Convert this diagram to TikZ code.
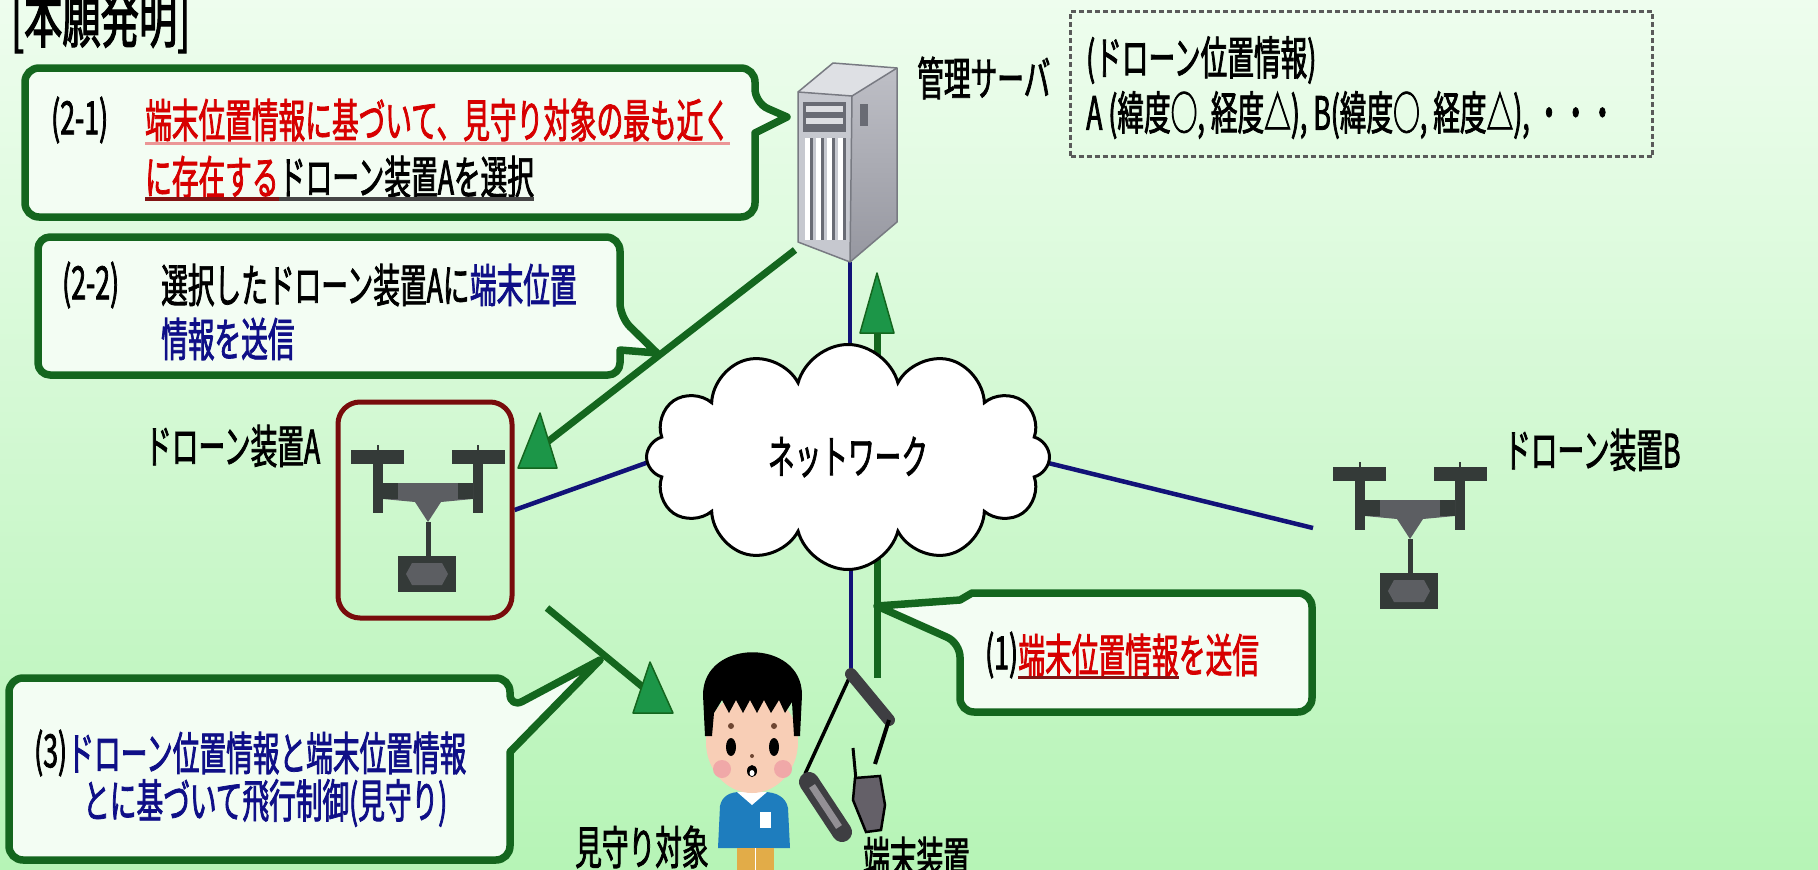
\documentclass[tikz,border=0pt]{standalone}
\usepackage{fontspec}
\setmainfont[FakeStretch=0.58, FakeBold=1.6]{Noto Sans CJK JP}
\usetikzlibrary{shapes.symbols}

\definecolor{bgtop}{RGB}{238,253,238}
\definecolor{bgbot}{RGB}{182,244,182}
\definecolor{callgreen}{RGB}{20,102,30}
\definecolor{callfill}{RGB}{243,253,243}
\definecolor{headgreen}{RGB}{28,150,72}
\definecolor{netblue}{RGB}{18,18,120}
\definecolor{txtred}{RGB}{215,0,0}
\definecolor{txtnavy}{RGB}{15,15,135}
\definecolor{ulred}{RGB}{130,20,20}
\definecolor{ulpink}{RGB}{235,150,150}
\definecolor{ulgray}{RGB}{70,70,70}
\definecolor{boxred}{RGB}{120,12,12}
\definecolor{dronedark}{RGB}{52,58,56}
\definecolor{dronebody}{RGB}{92,94,98}
\definecolor{dashgray}{RGB}{90,90,90}
\definecolor{srvtop}{RGB}{222,224,228}
\definecolor{srvfront}{RGB}{198,200,207}
\definecolor{srvsideA}{RGB}{190,191,198}
\definecolor{srvsideB}{RGB}{150,151,160}
\definecolor{srvedge}{RGB}{120,122,130}
\definecolor{srvslot}{RGB}{105,107,116}
\definecolor{skin}{RGB}{248,206,182}
\definecolor{cheek}{RGB}{240,168,168}
\definecolor{brow}{RGB}{110,70,50}
\definecolor{shirt}{RGB}{30,125,190}
\definecolor{shorts}{RGB}{226,172,72}
\definecolor{phonedark}{RGB}{62,62,66}
\definecolor{phonemid}{RGB}{100,96,104}

\pgfdeclarelayer{backdrop}
\pgfdeclarelayer{wires}
\pgfsetlayers{backdrop,wires,main}

\tikzset{
  txt/.style={inner sep=0pt, anchor=west, font=\fontsize{46}{52}\selectfont},
  callout/.style={draw=callgreen, fill=callfill, line width=7.5, line join=round},
  netline/.style={draw=netblue, line width=4.5},
  gshaft/.style={draw=callgreen, line width=7},
  ghead/.style={fill=headgreen, draw=callgreen, line width=1.5, line join=round},
  drone/.pic={
    % propellers with hubs
    \fill[dronedark] (-77,5) rectangle (-24,19);
    \fill[dronedark] (24,5) rectangle (77,19);
    \draw[dronedark, line width=2.5] (-50,0) -- (-50,5) (50,0) -- (50,5);
    % arms
    \fill[dronedark] (-55,19) rectangle (-45,68);
    \fill[dronedark] (45,19) rectangle (55,68);
    % body
    \fill[dronebody] (-45,38) -- (45,38) -- (45,54) -- (13,57) -- (0,77) -- (-13,57) -- (-45,54) -- cycle;
    \fill[dronedark] (-45,38) rectangle (-30,54);
    \fill[dronedark] (30,38) rectangle (45,54);
    % mast
    \fill[dronedark] (-2.5,77) rectangle (2.5,111);
    % camera
    \fill[dronedark] (-30,111) rectangle (28,147);
    \fill[dronebody] (-16,118) -- (14,118) -- (20,129) -- (14,140) -- (-16,140) -- (-22,129) -- cycle;
  }
}

\begin{document}
\begin{tikzpicture}[x=1pt,y=-1pt]
\useasboundingbox (0,0) rectangle (1818,870);
\begin{pgfonlayer}{backdrop}
  \fill[top color=bgtop, bottom color=bgbot] (0,0) rectangle (1818,870);
\end{pgfonlayer}
\clip (0,0) rectangle (1818,870);

% title
\node[txt, anchor=base west, font=\fontsize{66}{70}\selectfont] (title) at (11,42) {[本願発明]};

% ---------- management server ----------
\fill[srvtop] (798,92) -- (833,63) -- (897,68) -- (852,96) -- cycle;
\shade[top color=srvsideA, bottom color=srvsideB] (852,96) -- (897,68) -- (897,222) -- (850,262) -- cycle;
\fill[srvfront] (798,92) -- (852,96) -- (850,262) -- (798,242) -- cycle;
\fill[srvslot] (803,102) rectangle (846,132);
\fill[srvfront!60!white] (806,106) rectangle (843,112);
\fill[srvfront!60!white] (806,118) rectangle (843,124);
\foreach \sx in {805,816,827,838} {
  \fill[white] (\sx,138) rectangle (\sx+5,240);
  \fill[srvslot] (\sx+5,138) rectangle (\sx+8,240);
}
\fill[srvslot] (860,104) rectangle (868,126);
\draw[srvedge, line width=1.5, line join=round] (798,92) -- (833,63) -- (897,68) -- (897,222) -- (850,262) -- (798,242) -- cycle;
\draw[srvedge, line width=1.5] (798,92) -- (852,96) -- (850,262) (852,96) -- (897,68);
\coordinate (srvbot) at (850,262);
\node[txt] (srvlabel) at (917,78) {管理サーバ};

% drone position table
\node[draw=dashgray, line width=3, dash pattern=on 5pt off 3pt, anchor=north west,
      minimum width=582, minimum height=145, inner sep=0] (table) at (1069,10) {};
\node[txt] (tab1) at (1086,60) {(ドローン位置情報)};
\node[txt] (tab2) at (1086,115) {A (緯度○, 経度△), B(緯度○, 経度△), ・・・};

% ---------- network ----------
\node[cloud, cloud puffs=12, cloud ignores aspect, draw=black, line width=3, fill=white,
      minimum width=403, minimum height=225, inner sep=0,
      font=\fontsize{46}{52}\selectfont] (net) at (848,457) {ネットワーク};

% ---------- drones ----------
\node[draw=boxred, line width=5, rounded corners=22, minimum width=174, minimum height=216, inner sep=0] (boxA) at (425,510) {};
\pic at (428,445) {drone};
\pic at (1410,462) {drone};
\coordinate (droneB) at (1313,528);
\node[txt] (labA) at (145,446) {ドローン装置A};
\node[txt] (labB) at (1504,450) {ドローン装置B};

% ---------- watched child ----------
\fill[shirt] (718,848) -- (720,806) .. controls (722,796) and (730,792) .. (740,792) -- (764,792) .. controls (776,792) and (786,797) .. (788,808) -- (790,848) -- cycle;
\fill[white] (737,792) -- (767,792) -- (752,805) -- cycle;
\fill[white] (760,812) rectangle (771,828);
\fill[shorts] (737,848) rectangle (774,870);
\draw[white, line width=1] (755,848) -- (755,870);
\fill[skin] (752,742) ellipse [x radius=46, y radius=51];
\fill[black] (705,736) -- (703,695) .. controls (703,638) and (802,638) .. (802,695) -- (800,736) -- (794,736) -- (792,702)
  -- (785,713) -- (779,700) -- (771,713) -- (764,700) -- (757,713) -- (750,700) -- (743,713)
  -- (736,700) -- (729,713) -- (722,700) -- (714,713) -- (712,736) -- cycle;
\fill[brow] (731,726) circle (3);
\fill[brow] (774,726) circle (3);
\fill[black] (731,747) ellipse [x radius=5, y radius=9];
\fill[black] (774,747) ellipse [x radius=5, y radius=9];
\fill[cheek] (722,769) circle (9);
\fill[cheek] (783,769) circle (9);
\fill[brow] (752,756) circle (2);
\fill[black] (752,771) ellipse [x radius=5, y radius=6];
\fill[white] (752,773) ellipse [x radius=2.5, y radius=3];
\node[txt] (labChild) at (575,847) {見守り対象};

% ---------- terminal device ----------
\coordinate (hinge) at (851,674);
\draw[black, line width=3.5] (hinge) -- (805,774);
\draw[phonedark, line width=12, line cap=round] (hinge) -- (889,720);
\draw[black, line width=4] (889,720) -- (875,764);
\draw[phonedark, line width=20, line cap=round] (809,782) -- (842,832);
\draw[phonemid!70!white, line width=7] (812,786) -- (839,827);
\draw[black, line width=3] (853,748) -- (856,780);
\fill[phonemid, draw=black, line width=2.5] (855,778) -- (880,776) -- (885,805) -- (881,830) -- (866,832) -- (853,800) -- cycle;
\node[txt] (labTerm) at (863,858) {端末装置};

% ---------- network links and flows (under the cloud) ----------
\begin{pgfonlayer}{wires}
  \draw[netline] (srvbot) -- (srvbot |- net.center);
  \draw[netline] (boxA.east) -- (660,458);
  \draw[netline] (1040,461) -- (droneB);
  \draw[netline] (hinge |- net.center) -- (hinge);
  \draw[gshaft] (877,440) -- (877,326);
  \draw[gshaft] (877,470) -- (877,678);
\end{pgfonlayer}
\fill[ghead] (877,273) -- (860,333) -- (894,333) -- cycle;

% (2-2) server -> drone A
\coordinate (a22s) at (795,250);
\coordinate (a22e) at (537,450);
\draw[gshaft] (a22s) -- (a22e);
\fill[ghead] (540,413) -- (518,468) -- (557,468) -- cycle;

% (3) drone A -> child
\coordinate (a3s) at (547,608);
\coordinate (a3e) at (650,693);
\draw[gshaft] (a3s) -- (a3e);
\fill[ghead] (650,662) -- (633,713) -- (673,713) -- cycle;

% ---------- callouts ----------
% (2-1)
\draw[callout] (400,68) [rounded corners=14] -- (755,68) -- (755,103) [sharp corners] -- (787,117) -- (755,133) [rounded corners=14] -- (755,217) -- (25,217) -- (25,68) -- cycle;
\node[txt] (n21) at (51,120) {(2-1)};
\node[txt, text=txtred] (t21a) at (145,120) {端末位置情報に基づいて、見守り対象の最も近く};
\node[txt, text=txtred] (t21b) at (145,177) {に存在する};
\node[txt] (t21c) at (t21b.east) {ドローン装置Aを選択};
\draw[ulpink, line width=2.5] ([yshift=-2pt]t21a.south west) -- ([yshift=-2pt]t21a.south east);
\draw[ulred, line width=4] ([yshift=-1pt]t21b.south west) -- ([yshift=-1pt]t21b.south east);
\draw[ulgray, line width=4] ([yshift=-1pt]t21c.south west) -- ([yshift=-1pt]t21c.south east);

% (2-2)
\draw[callout] (300,237) [rounded corners=14] -- (620,237) -- (620,317) [sharp corners] -- (657,353) -- (620,350) [rounded corners=12] -- (620,375) -- (38,375) -- (38,237) -- cycle;
\node[txt] (n22) at (62,285) {(2-2)};
\node[txt] (t22a) at (161,285) {選択したドローン装置Aに};
\node[txt, text=txtnavy] (t22b) at (t22a.east) {端末位置};
\node[txt, text=txtnavy] (t22c) at (161,339) {情報を送信};

% (1)
\draw[callout] (1100,593) [rounded corners=14] -- (1312,593) -- (1312,712) -- (960,712) -- (960,643) [sharp corners] -- (877,606) -- (960,600) -- (972,593) -- cycle;
\node[txt] (n1) at (985,655) {(1)};
\node[txt, text=txtred] (t1a) at (n1.east) {端末位置情報};
\node[txt, text=txtred] (t1b) at (t1a.east) {を送信};
\draw[ulred, line width=3] ([yshift=-1pt]t1a.south west) -- ([yshift=-1pt]t1a.south east);

% (3)
\draw[callout] (200,678) [rounded corners=14] -- (510,678) -- (510,708) [sharp corners] -- (600,660) -- (510,752) [rounded corners=14] -- (510,860) -- (9,860) -- (9,678) -- cycle;
\node[txt] (n3) at (34,753) {(3)};
\node[txt, text=txtnavy] (t3a) at (n3.east) {ドローン位置情報と端末位置情報};
\node[txt, text=txtnavy] (t3b) at (83,803) {とに基づいて飛行制御(見守り)};
\end{tikzpicture}
\end{document}
